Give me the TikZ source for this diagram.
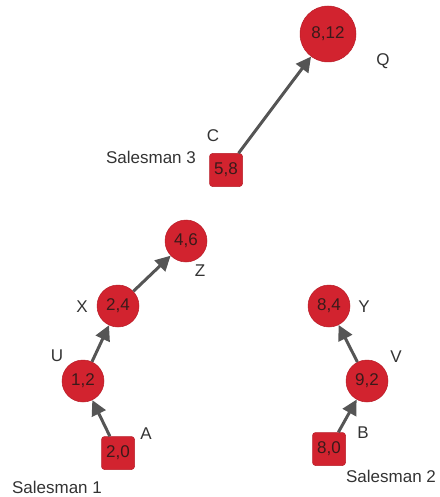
\documentclass[tikz,border=0pt]{standalone}
\usepackage{fontspec}
\setmainfont{Liberation Sans}
\usetikzlibrary{arrows.meta}
\definecolor{nodered}{HTML}{D2232F}
\definecolor{noderedd}{HTML}{B81E28}
\definecolor{arrowgray}{HTML}{555555}
\definecolor{txt}{HTML}{3A1A1A}
\definecolor{lbl}{HTML}{333333}
\begin{document}
\begin{tikzpicture}[x=1pt,y=-1pt,
  cnode/.style={circle,fill=nodered,draw=noderedd,line width=0.5pt,inner sep=0pt,minimum size=42pt,font=\fontsize{17}{19}\selectfont,text=txt},
  bignode/.style={cnode,minimum size=56pt},
  snode/.style={rectangle,rounded corners=3pt,fill=nodered,draw=noderedd,line width=0.5pt,inner sep=0pt,minimum size=33pt,font=\fontsize{17}{19}\selectfont,text=txt},
  lab/.style={font=\fontsize{17}{19}\selectfont,text=lbl,inner sep=0pt},
  conn/.style={draw=arrowgray,line width=3pt,-{Triangle[length=15pt,width=15pt]}}]
\useasboundingbox (0,0) rectangle (439,497);
% nodes
\node[bignode] (Q) at (328,34) {8,12};
\node[snode] (C) at (226,170) {5,8};
\node[cnode] (Z) at (186,241) {4,6};
\node[cnode] (X) at (118,306) {2,4};
\node[cnode] (U) at (83,381) {1,2};
\node[snode] (A) at (118,453) {2,0};
\node[cnode] (Y) at (329,306) {8,4};
\node[cnode] (V) at (367,381) {9,2};
\node[snode] (B) at (329,449) {8,0};
% labels
\node[lab] (lQ) at (383,61) {Q};
\node[lab] (lC) at (213,136) {C};
\node[lab] (lS3) at (151,157) {Salesman 3};
\node[lab] (lZ) at (200,271) {Z};
\node[lab] (lX) at (82,307) {X};
\node[lab] (lU) at (57,356) {U};
\node[lab] (lA) at (146,434) {A};
\node[lab] (lS1) at (57,487) {Salesman 1};
\node[lab] (lY) at (364,307) {Y};
\node[lab] (lV) at (396,357) {V};
\node[lab] (lB) at (363,433) {B};
\node[lab] (lS2) at (391,476) {Salesman 2};
% connectors
\draw[conn] (C) -- (Q);
\draw[conn] (A) -- (U);
\draw[conn] (U) -- (X);
\draw[conn] (X) -- (Z);
\draw[conn] (B) -- (V);
\draw[conn] (V) -- (Y);
\end{tikzpicture}
\end{document}
